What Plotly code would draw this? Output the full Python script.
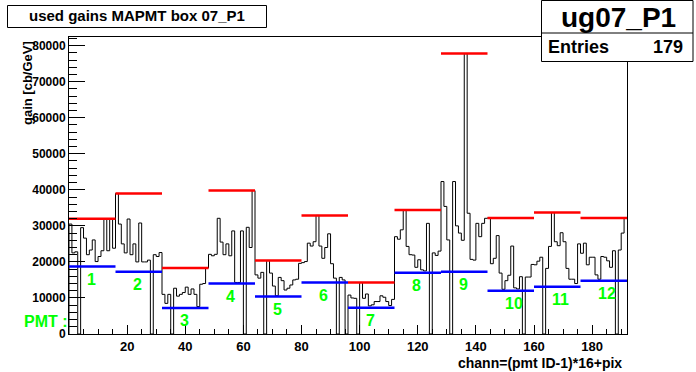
import plotly.graph_objects as go

# ---- data ----
pmt01 = [30500, 22500, 22800, 0, 29500, 26600, 22000, 23300, 26100, 20100, 21500, 23100, 31800, 23100, 32000, 23800]
pmt02 = [39000, 30500, 25000, 22500, 31900, 22000, 25000, 20000, 30800, 20000, 20000, 20500, 0, 22000, 21500, 22600]
pmt03 = [11000, 8500, 11000, 0, 12700, 10500, 11000, 11500, 13000, 11000, 12500, 11000, 7600, 13800, 14000, 18300]
pmt04 = [22100, 21700, 22100, 32100, 25500, 22000, 25000, 21700, 28600, 14300, 14300, 28600, 0, 29600, 24000, 39800]
pmt05 = [16400, 15500, 17100, 0, 20400, 16900, 13300, 10600, 15700, 14800, 12200, 12700, 13600, 15000, 15200, 19600]
pmt06 = [19800, 20100, 25200, 24400, 25600, 32900, 24400, 21000, 24000, 27800, 19500, 15500, 0, 15700, 15000, 0]
pmt07 = [10800, 10000, 9900, 0, 14300, 9900, 11100, 7800, 8100, 9000, 9000, 10600, 10200, 9000, 7900, 9600]
pmt08 = [27000, 26300, 28900, 34400, 24300, 22000, 21900, 18500, 20600, 17800, 17500, 30700, 0, 22500, 21800, 23000]
pmt09 = [42300, 35400, 26100, 0, 42300, 30000, 28000, 26000, 77800, 33500, 20700, 20500, 30700, 27000, 30700, 32100]
pmt10 = [32200, 19500, 21000, 27300, 16900, 12400, 14800, 16300, 24400, 12800, 12500, 15900, 0, 15800, 15800, 19300]
pmt11 = [19200, 20200, 21300, 0, 18200, 24300, 33700, 25600, 24500, 28100, 25600, 18200, 15200, 15200, 14000, 25000]
pmt12 = [22400, 25200, 19200, 21300, 21300, 16400, 15200, 21500, 21300, 20300, 18500, 23100, 0, 23300, 28000, 32200]

max_gain = [32000, 39000, 18300, 39800, 20400, 32900, 14300, 34400, 77800, 32200, 33700, 32200]   # red
min_gain = [18700, 17300, 7200, 14000, 10400, 14300, 7300, 17000, 17300, 12000, 13100, 14800]     # blue
pmt_labels = ["1", "2", "3", "4", "5", "6", "7", "8", "9", "10", "11", "12"]
x_ticks = [20, 40, 60, 80, 100, 120, 140, 160, 180]
y_ticks = [0, 10000, 20000, 30000, 40000, 50000, 60000, 70000, 80000]

title_text = "used gains MAPMT box 07_P1"
hist_name = "ug07_P1"
entries = 179
x_title = "chann=(pmt ID-1)*16+pix"
y_title = "gain [cb/GeV]"

# ---- build ----
pmts = [pmt01, pmt02, pmt03, pmt04, pmt05, pmt06, pmt07, pmt08, pmt09, pmt10, pmt11, pmt12]
NPIX = 16
values = [v for p in pmts for v in p]
nb = len(values)
edges = list(range(nb + 1))

W, H = 696, 372
L, R, T, B = 69, 627, 37, 334
YMAX = 82400
FONT = "Liberation Sans, Arial, Helvetica, sans-serif"


def px(xp):
    return (xp - L) / (R - L)


def py(yp):
    return (B - yp) / (B - T)


fig = go.Figure()

fig.add_trace(go.Scatter(
    x=[0] + edges, y=[0] + values + [values[-1]],
    mode="lines", line=dict(color="black", width=1, shape="hv"),
    hoverinfo="skip", showlegend=False))

rx, ry, bx, by = [], [], [], []
for k in range(len(pmts)):
    x0, x1 = k * NPIX, (k + 1) * NPIX
    rx += [x0, x1, None]
    ry += [max_gain[k], max_gain[k], None]
    bx += [x0, x1, None]
    by += [min_gain[k], min_gain[k], None]

fig.add_trace(go.Scatter(x=rx, y=ry, mode="lines", line=dict(color="#ff0000", width=2.5),
                         hoverinfo="skip", showlegend=False))
fig.add_trace(go.Scatter(x=bx, y=by, mode="lines", line=dict(color="#0000ff", width=2.5),
                         hoverinfo="skip", showlegend=False))

annotations = []
for k, lab in enumerate(pmt_labels):
    annotations.append(dict(
        x=k * NPIX + 5.5, y=min_gain[k] - 3500, xref="x", yref="y",
        text=lab, showarrow=False, xanchor="left", yanchor="middle",
        font=dict(family=FONT, size=16, color="#00ff00", weight="bold")))

annotations.append(dict(
    x=px(70), y=py(321), xref="paper", yref="paper", text="PMT :", showarrow=False,
    xanchor="right", yanchor="middle",
    font=dict(family=FONT, size=16, color="#00ff00", weight="bold")))

# title box
annotations.append(dict(
    x=px(137), y=py(16), xref="paper", yref="paper", text=title_text, showarrow=False,
    xanchor="center", yanchor="middle",
    font=dict(family=FONT, size=15, color="black", weight="bold")))

# axis titles
annotations.append(dict(
    x=px(624), y=py(363), xref="paper", yref="paper", text=x_title, showarrow=False,
    xanchor="right", yanchor="middle",
    font=dict(family=FONT, size=14, color="black", weight="bold")))
annotations.append(dict(
    x=px(27), y=py(39), xref="paper", yref="paper", text=y_title, showarrow=False,
    textangle=-90, xanchor="center", yanchor="top",
    font=dict(family=FONT, size=13, color="black", weight="bold")))

# stats box texts
annotations.append(dict(
    x=px(618), y=py(17), xref="paper", yref="paper", text=hist_name, showarrow=False,
    xanchor="center", yanchor="middle",
    font=dict(family=FONT, size=28, color="black", weight="bold")))
annotations.append(dict(
    x=px(546), y=py(47), xref="paper", yref="paper", text="Entries", showarrow=False,
    xanchor="left", yanchor="middle",
    font=dict(family=FONT, size=18, color="black", weight="bold")))
annotations.append(dict(
    x=px(685), y=py(47), xref="paper", yref="paper", text=str(entries), showarrow=False,
    xanchor="right", yanchor="middle",
    font=dict(family=FONT, size=18, color="black", weight="bold")))

shapes = [
    dict(type="rect", xref="paper", yref="paper", x0=px(7.5), x1=px(266.5), y0=py(5.5), y1=py(27.5),
         line=dict(color="black", width=1), fillcolor="white", layer="above"),
    dict(type="rect", xref="paper", yref="paper", x0=px(541.5), x1=px(693), y0=py(0.5), y1=py(61.5),
         line=dict(color="black", width=1), fillcolor="white", layer="above"),
    dict(type="line", xref="paper", yref="paper", x0=px(541.5), x1=px(693), y0=py(33), y1=py(33),
         line=dict(color="black", width=1), layer="above"),
]

fig.update_layout(
    width=W, height=H,
    margin=dict(l=L, r=W - R, t=T, b=H - B),
    paper_bgcolor="white", plot_bgcolor="white",
    showlegend=False,
    annotations=annotations,
    shapes=shapes,
    xaxis=dict(range=[0, nb], tickvals=x_ticks, ticktext=[str(v) for v in x_ticks],
               ticks="inside", ticklen=9, tickcolor="black", tickwidth=1,
               minor=dict(ticks="inside", ticklen=5, dtick=5, tickcolor="black", tickwidth=1),
               showline=True, linecolor="black", linewidth=1, mirror=True,
               showgrid=False, zeroline=False,
               tickfont=dict(family=FONT, size=13, color="black", weight="bold")),
    yaxis=dict(range=[0, YMAX], tickvals=y_ticks, ticktext=[str(v) for v in y_ticks],
               ticks="inside", ticklen=16, tickcolor="black", tickwidth=1,
               minor=dict(ticks="inside", ticklen=8, dtick=2000, tickcolor="black", tickwidth=1),
               showline=True, linecolor="black", linewidth=1, mirror=True,
               showgrid=False, zeroline=False,
               tickfont=dict(family=FONT, size=12, color="black", weight="bold")),
)

fig.write_html("out.html", config={"displayModeBar": False},
               post_script="document.body.style.margin='0';document.body.style.overflow='hidden';")
